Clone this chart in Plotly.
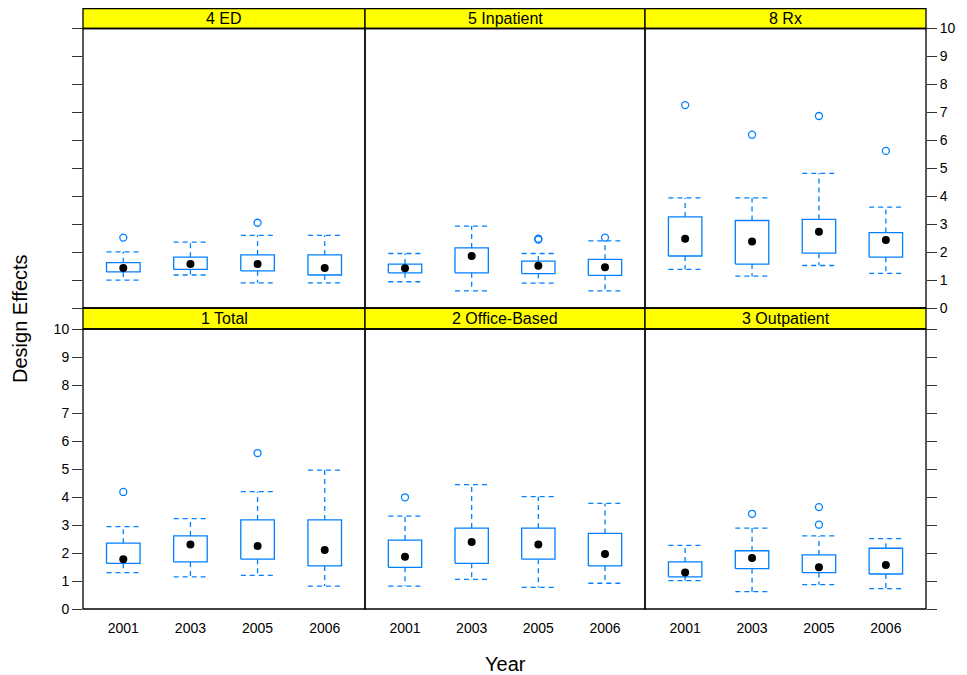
import plotly.graph_objects as go

years = ["2001", "2003", "2005", "2006"]
panels = ["1 Total", "2 Office-Based", "3 Outpatient", "4 ED", "5 Inpatient", "8 Rx"]

# lower whisker, Q1, median, Q3, upper whisker, outliers (per year)
total_low = [1.30, 1.15, 1.20, 0.82]
total_q1 = [1.63, 1.68, 1.78, 1.54]
total_med = [1.78, 2.30, 2.25, 2.11]
total_q3 = [2.35, 2.61, 3.18, 3.18]
total_high = [2.94, 3.23, 4.19, 4.96]
total_out = [[4.18], [], [5.57], []]

office_low = [0.82, 1.06, 0.77, 0.92]
office_q1 = [1.49, 1.63, 1.78, 1.54]
office_med = [1.87, 2.39, 2.30, 1.96]
office_q3 = [2.46, 2.89, 2.89, 2.70]
office_high = [3.32, 4.44, 4.01, 3.77]
office_out = [[3.99], [], [], []]

outpat_low = [1.01, 0.62, 0.87, 0.73]
outpat_q1 = [1.15, 1.44, 1.30, 1.25]
outpat_med = [1.30, 1.82, 1.49, 1.57]
outpat_q3 = [1.68, 2.08, 1.93, 2.17]
outpat_high = [2.27, 2.89, 2.61, 2.51]
outpat_out = [[], [3.40], [3.01, 3.64], []]

ed_low = [1.00, 1.18, 0.90, 0.90]
ed_q1 = [1.29, 1.38, 1.33, 1.18]
ed_med = [1.43, 1.57, 1.57, 1.43]
ed_q3 = [1.62, 1.82, 1.90, 1.90]
ed_high = [2.01, 2.36, 2.60, 2.60]
ed_out = [[2.52], [], [3.05], []]

inpat_low = [0.94, 0.61, 0.89, 0.61]
inpat_q1 = [1.26, 1.26, 1.23, 1.17]
inpat_med = [1.42, 1.86, 1.51, 1.46]
inpat_q3 = [1.57, 2.15, 1.68, 1.74]
inpat_high = [1.95, 2.93, 1.95, 2.40]
inpat_out = [[], [], [2.45, 2.48], [2.52]]

rx_low = [1.38, 1.14, 1.52, 1.24]
rx_q1 = [1.86, 1.57, 1.96, 1.82]
rx_med = [2.48, 2.38, 2.73, 2.43]
rx_q3 = [3.26, 3.13, 3.17, 2.70]
rx_high = [3.94, 3.94, 4.82, 3.61]
rx_out = [[7.26], [6.20], [6.87], [5.62]]

y_ticks = list(range(0, 11))

data = {
    "1 Total": (total_low, total_q1, total_med, total_q3, total_high, total_out),
    "2 Office-Based": (office_low, office_q1, office_med, office_q3, office_high, office_out),
    "3 Outpatient": (outpat_low, outpat_q1, outpat_med, outpat_q3, outpat_high, outpat_out),
    "4 ED": (ed_low, ed_q1, ed_med, ed_q3, ed_high, ed_out),
    "5 Inpatient": (inpat_low, inpat_q1, inpat_med, inpat_q3, inpat_high, inpat_out),
    "8 Rx": (rx_low, rx_q1, rx_med, rx_q3, rx_high, rx_out),
}

# ---- layout geometry (screen pixels; page body adds an 8px offset) ----
W, H = 967, 675
OFF = 8
cols = [(83, 365), (365, 645), (645, 926)]
rows = {"bottom": (329, 609), "top": (28.5, 308)}
strips = {"bottom": (308, 329), "top": (8.5, 28.5)}
placement = {
    "1 Total": ("bottom", 0), "2 Office-Based": ("bottom", 1), "3 Outpatient": ("bottom", 2),
    "4 ED": ("top", 0), "5 Inpatient": ("top", 1), "8 Rx": ("top", 2),
}

BLUE = "#0080ff"
FONT = "Liberation Sans, Arial, Helvetica, sans-serif"
HALF = 0.25

def fx(p):
    return (p - OFF) / W

def fy(p):
    return 1 - (p - OFF) / H

fig = go.Figure()
shapes = []
annotations = []
layout_axes = {}

for i, name in enumerate(panels, start=1):
    row, col = placement[name]
    low, q1, med, q3, high, outs = data[name]
    xs = [k + 1 for k in range(len(years))]
    xa = "x" if i == 1 else f"x{i}"
    ya = "y" if i == 1 else f"y{i}"

    # boxes
    bx, by = [], []
    for x, a, b in zip(xs, q1, q3):
        bx += [x - HALF, x + HALF, x + HALF, x - HALF, x - HALF, None]
        by += [a, a, b, b, a, None]
    fig.add_trace(go.Scatter(x=bx, y=by, mode="lines", xaxis=xa, yaxis=ya,
                             line=dict(color=BLUE, width=1.3), hoverinfo="skip",
                             showlegend=False))
    # whiskers (dashed)
    wx, wy = [], []
    for x, lo, a, b, hi in zip(xs, low, q1, q3, high):
        wx += [x, x, None, x, x, None, x - HALF, x + HALF, None, x - HALF, x + HALF, None]
        wy += [b, hi, None, a, lo, None, hi, hi, None, lo, lo, None]
    fig.add_trace(go.Scatter(x=wx, y=wy, mode="lines", xaxis=xa, yaxis=ya,
                             line=dict(color=BLUE, width=1.3, dash="5px,4px"),
                             hoverinfo="skip", showlegend=False))
    # outliers
    ox, oy = [], []
    for x, o in zip(xs, outs):
        for v in o:
            ox.append(x)
            oy.append(v)
    fig.add_trace(go.Scatter(x=ox, y=oy, mode="markers", xaxis=xa, yaxis=ya,
                             marker=dict(symbol="circle-open", color=BLUE, size=7,
                                         line=dict(width=1.3, color=BLUE)),
                             showlegend=False))
    # medians
    fig.add_trace(go.Scatter(x=xs, y=med, mode="markers", xaxis=xa, yaxis=ya,
                             marker=dict(color="black", size=8),
                             showlegend=False))

    x0, x1 = cols[col]
    y0, y1 = rows[row]
    s0, s1 = strips[row]

    key = "" if i == 1 else str(i)
    layout_axes["xaxis" + key] = dict(
        domain=[fx(x0), fx(x1)], range=[0.4, 4.6], anchor=ya, automargin=False,
        tickvals=xs, ticktext=years, showticklabels=(row == "bottom"),
        ticks="outside", ticklen=6, tickcolor="rgba(0,0,0,0)",
        showgrid=False, zeroline=False, showline=False, fixedrange=True,
        tickfont=dict(size=14, color="black", family=FONT),
    )
    side = "left" if col == 0 else "right"
    has_ticks = col in (0, 2)
    show_lab = (col == 0 and row == "bottom") or (col == 2 and row == "top")
    layout_axes["yaxis" + key] = dict(
        domain=[fy(y1), fy(y0)], range=[0, 10], anchor=xa, side=side, automargin=False,
        tickvals=y_ticks, ticktext=[str(v) for v in y_ticks],
        ticks="outside" if has_ticks else "", ticklen=10, tickwidth=1.2,
        tickcolor="#333333", showticklabels=show_lab,
        showgrid=False, zeroline=False, showline=False, fixedrange=True,
        tickfont=dict(size=14, color="black", family=FONT),
    )

    # panel border
    shapes.append(dict(type="rect", xref="paper", yref="paper",
                       x0=fx(x0), x1=fx(x1), y0=fy(y1), y1=fy(y0),
                       line=dict(color="black", width=1.3), fillcolor="rgba(0,0,0,0)",
                       layer="above"))
    # strip
    shapes.append(dict(type="rect", xref="paper", yref="paper",
                       x0=fx(x0), x1=fx(x1), y0=fy(s1), y1=fy(s0),
                       line=dict(color="black", width=1.3), fillcolor="#ffff00",
                       layer="below"))
    annotations.append(dict(text=name, xref="paper", yref="paper",
                            x=fx((x0 + x1) / 2), y=fy(s1 + 0.5), xanchor="center",
                            yanchor="bottom", showarrow=False,
                            font=dict(size=16, color="black", family=FONT)))

annotations.append(dict(text="Design Effects", xref="paper", yref="paper",
                        x=fx(20), y=fy(319), xanchor="center", yanchor="middle",
                        textangle=-90, showarrow=False,
                        font=dict(size=20, color="black", family=FONT)))
annotations.append(dict(text="Year", xref="paper", yref="paper",
                        x=fx(505), y=fy(664), xanchor="center", yanchor="middle",
                        showarrow=False,
                        font=dict(size=20, color="black", family=FONT)))

fig.update_layout(
    template="none",
    width=W, height=H,
    margin=dict(l=0, r=0, t=0, b=0, pad=0, autoexpand=False),
    paper_bgcolor="white", plot_bgcolor="white",
    shapes=shapes, annotations=annotations,
    showlegend=False,
    **layout_axes,
)

fig.write_html("out.html")
